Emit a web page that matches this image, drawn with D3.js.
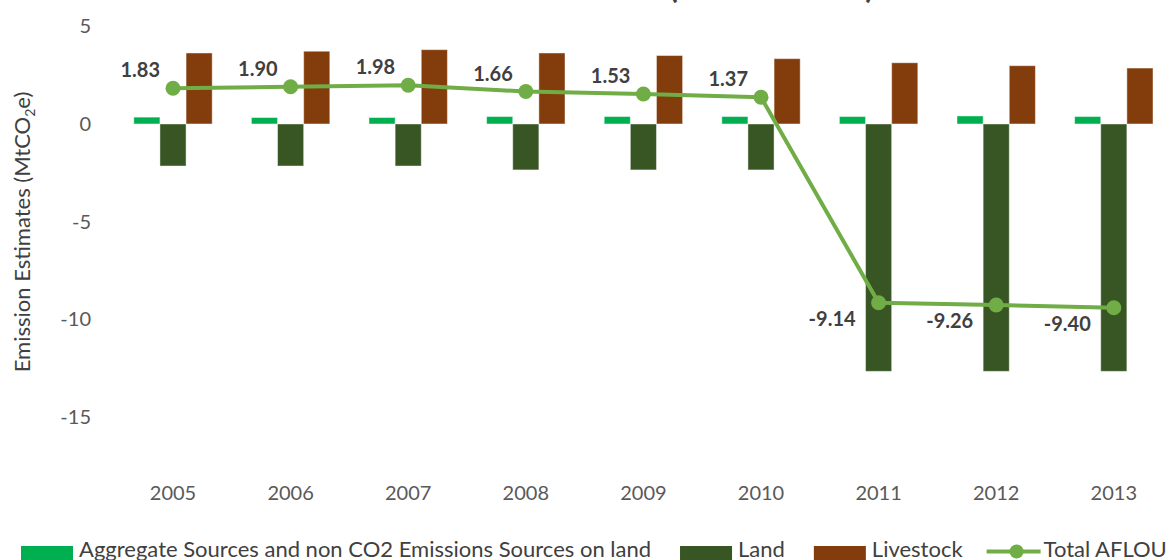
<!DOCTYPE html>
<html>
<head>
<meta charset="utf-8">
<script src="https://cdn.jsdelivr.net/npm/d3@7"></script>
<style>
    body { margin: 0; background: #fff; }
    svg { display: block; font-family: Lato, "Open Sans", sans-serif; }
</style>
</head>
<body>
<div id="chart"></div>
<script>
var years = ["2005", "2006", "2007", "2008", "2009", "2010", "2011", "2012", "2013"];
var aggregate = [0.35, 0.33, 0.33, 0.38, 0.38, 0.38, 0.38, 0.41, 0.38];
var land = [-2.15, -2.15, -2.15, -2.35, -2.35, -2.35, -12.65, -12.65, -12.65];
var livestock = [3.63, 3.72, 3.80, 3.63, 3.50, 3.34, 3.13, 2.98, 2.86];
var totalAflou = [1.83, 1.90, 1.98, 1.66, 1.53, 1.37, -9.14, -9.26, -9.40];
var yTicks = [5, 0, -5, -10, -15];
var seriesNames = ["Aggregate Sources and non CO2 Emissions Sources on land", "Land", "Livestock", "Total AFLOU"];

function init() {
    var w = 1171;
    var h = 560;
    var colors = ["#00B050", "#375623", "#833C0B", "#70AD47"];

    var svg = d3.select("#chart")
        .append("svg")
        .attr("width", w)
        .attr("height", h);

    // title is mostly cut off at the top edge
    svg.append("text")
        .attr("x", 664)
        .attr("y", -2)
        .attr("text-anchor", "end")
        .attr("font-size", 32)
        .attr("font-weight", "bold")
        .attr("fill", "#404040")
        .text("AFOLU Emissions Trend");
    svg.append("text")
        .attr("x", 669)
        .attr("y", -2)
        .attr("font-size", 32)
        .attr("font-weight", "bold")
        .attr("fill", "#404040")
        .attr("textLength", 205)
        .attr("lengthAdjust", "spacing")
        .text("(2005 - 2013)");

    var xScale = d3.scaleBand()
        .domain(years)
        .range([114.2, 1172.6]);

    var bw = xScale.bandwidth() / 4.5;
    var inner = d3.scaleBand()
        .domain([0, 1, 2])
        .range([0, bw * 3]);
    var offset = (xScale.bandwidth() - bw * 3) / 2;

    var yScale = d3.scaleLinear()
        .domain([-15, 5])
        .range([417.3, 26.2]);

    // y axis labels
    var yAxis = d3.axisLeft(yScale)
        .tickValues(yTicks)
        .tickFormat(function (d) { return String(d); })
        .tickSize(0)
        .tickPadding(0);

    var gy = svg.append("g")
        .attr("transform", "translate(91,0)")
        .call(yAxis);
    gy.select(".domain").remove();
    gy.selectAll("text")
        .attr("font-family", "Lato")
        .attr("font-size", 20)
        .attr("fill", "#595959");

    // x axis labels
    var xAxis = d3.axisBottom(xScale)
        .tickSize(0)
        .tickPadding(8);

    var gx = svg.append("g")
        .attr("transform", "translate(0,478)")
        .call(xAxis);
    gx.select(".domain").remove();
    gx.selectAll("text")
        .attr("font-family", "Lato")
        .attr("font-size", 20)
        .attr("fill", "#595959");

    // y axis title
    svg.append("text")
        .attr("transform", "translate(30,232) rotate(-90)")
        .attr("text-anchor", "middle")
        .attr("font-size", 22)
        .attr("fill", "#404040")
        .html("Emission Estimates (MtCO<tspan font-size='14' dy='5'>2</tspan><tspan dy='-5'>e)</tspan>");

    var barSeries = [aggregate, land, livestock];

    barSeries.forEach(function (vals, s) {
        svg.append("g")
            .selectAll("rect")
            .data(vals)
            .enter()
            .append("rect")
            .attr("x", function (d, i) { return xScale(years[i]) + offset + inner(s); })
            .attr("y", function (d) { return yScale(Math.max(0, d)); })
            .attr("width", inner.bandwidth())
            .attr("height", function (d) { return Math.abs(yScale(d) - yScale(0)); })
            .attr("fill", colors[s])
            .attr("stroke", "#ffffff")
            .attr("stroke-opacity", 0.45)
            .attr("stroke-width", 1);
    });

    // total line
    var line = d3.line()
        .x(function (d, i) { return xScale(years[i]) + xScale.bandwidth() / 2; })
        .y(function (d) { return yScale(d); });

    svg.append("path")
        .datum(totalAflou)
        .attr("d", line)
        .attr("fill", "none")
        .attr("stroke", colors[3])
        .attr("stroke-width", 4)
        .attr("stroke-linejoin", "round");

    svg.append("g")
        .selectAll("circle")
        .data(totalAflou)
        .enter()
        .append("circle")
        .attr("cx", function (d, i) { return xScale(years[i]) + xScale.bandwidth() / 2; })
        .attr("cy", function (d) { return yScale(d); })
        .attr("r", 7.5)
        .attr("fill", colors[3]);

    // data labels
    svg.append("g")
        .selectAll("text")
        .data(totalAflou)
        .enter()
        .append("text")
        .attr("x", function (d, i) {
            return xScale(years[i]) + xScale.bandwidth() / 2 + (d < 0 ? -23 : -13);
        })
        .attr("y", function (d) { return yScale(d) + (d < 0 ? 16 : -18); })
        .attr("dy", "0.36em")
        .attr("text-anchor", "end")
        .attr("font-size", 20)
        .attr("font-weight", "bold")
        .attr("fill", "#404040")
        .text(function (d) { return d.toFixed(2); });

    // legend
    var legend = svg.append("g").attr("font-size", 22).attr("fill", "#404040");
    var lx = 21;
    var gaps = [29, 29, 24];
    seriesNames.forEach(function (name, i) {
        var tx = i < 3 ? 58 : 57;
        if (i < 3) {
            legend.append("rect")
                .attr("x", lx)
                .attr("y", 546)
                .attr("width", 52)
                .attr("height", 14)
                .attr("fill", colors[i]);
        } else {
            legend.append("line")
                .attr("x1", lx)
                .attr("x2", lx + 54)
                .attr("y1", 551.5)
                .attr("y2", 551.5)
                .attr("stroke", colors[3])
                .attr("stroke-width", 4);
            legend.append("circle")
                .attr("cx", lx + 30)
                .attr("cy", 551.5)
                .attr("r", 7)
                .attr("fill", colors[3]);
        }
        var t = legend.append("text")
            .attr("x", lx + tx)
            .attr("y", 557)
            .text(name);
        lx = lx + tx + t.node().getComputedTextLength() + (gaps[i] || 0);
    });
}
window.onload = init;
</script>
</body>
</html>
